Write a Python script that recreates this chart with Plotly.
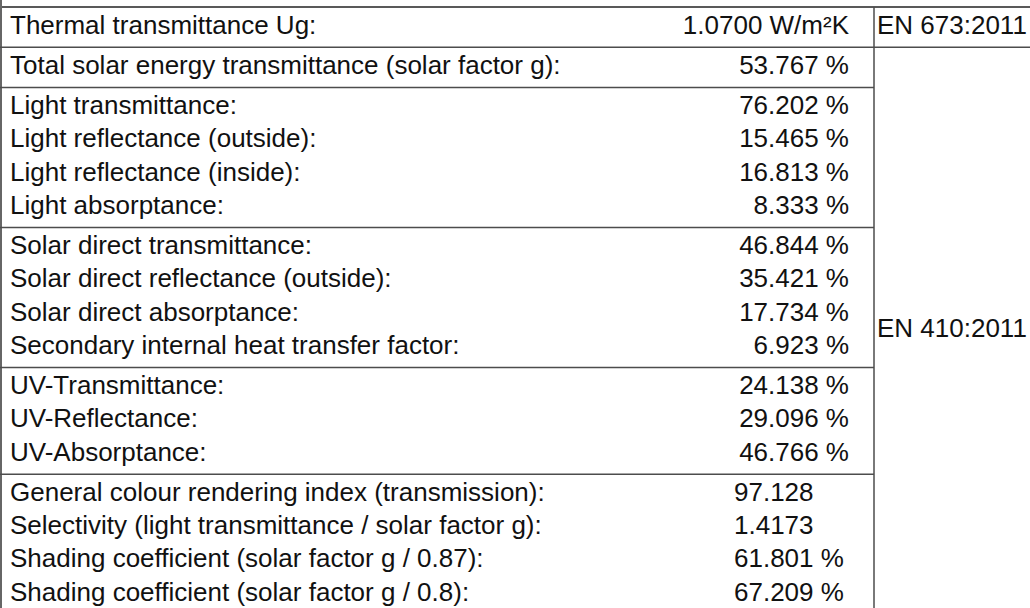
import plotly.graph_objects as go

# ---- data ----
labels = [
    "Thermal transmittance Ug:",
    "Total solar energy transmittance (solar factor g):",
    "Light transmittance:",
    "Light reflectance (outside):",
    "Light reflectance (inside):",
    "Light absorptance:",
    "Solar direct transmittance:",
    "Solar direct reflectance (outside):",
    "Solar direct absorptance:",
    "Secondary internal heat transfer factor:",
    "UV-Transmittance:",
    "UV-Reflectance:",
    "UV-Absorptance:",
    "General colour rendering index (transmission):",
    "Selectivity (light transmittance / solar factor g):",
    "Shading coefficient (solar factor g / 0.87):",
    "Shading coefficient (solar factor g / 0.8):",
]
values = [
    "1.0700 W/m²K", "53.767 %",
    "76.202 %", "15.465 %", "16.813 %", "8.333 %",
    "46.844 %", "35.421 %", "17.734 %", "6.923 %",
    "24.138 %", "29.096 %", "46.766 %",
    "97.128", "1.4173", "61.801 %", "67.209 %",
]
group_sizes = [1, 1, 4, 4, 3, 4]
standards = ["EN 673:2011", "EN 410:2011"]

# ---- layout geometry ----
W, H = 1030, 608
top = 7
pitch = 33.25
pad = 7
x_left = 10
x_val_right = 849
x_val_left = 734
x_div = 874
x_std = 877

row_y = []
group_bounds = []
y = top
for g in group_sizes:
    y0 = y
    for k in range(g):
        row_y.append(y0 + pad / 2 + pitch * (k + 0.5))
    y = y0 + g * pitch + pad
    group_bounds.append((y0, y))

n_last = group_sizes[-1]
right_aligned = [i < len(values) - n_last for i in range(len(values))]

fig = go.Figure()
font = dict(family="Arial, Liberation Sans, sans-serif", size=26, color="#111111")

fig.add_trace(go.Scatter(x=[x_left] * len(labels), y=row_y, text=labels, mode="text",
                         textposition="middle right", textfont=font, hoverinfo="skip"))
ry = [row_y[i] for i in range(len(values)) if right_aligned[i]]
rv = [values[i] for i in range(len(values)) if right_aligned[i]]
ly = [row_y[i] for i in range(len(values)) if not right_aligned[i]]
lv = [values[i] for i in range(len(values)) if not right_aligned[i]]
fig.add_trace(go.Scatter(x=[x_val_right] * len(rv), y=ry, text=rv, mode="text",
                         textposition="middle left", textfont=font, hoverinfo="skip"))
fig.add_trace(go.Scatter(x=[x_val_left] * len(lv), y=ly, text=lv, mode="text",
                         textposition="middle right", textfont=font, hoverinfo="skip"))

# standards
std1_y = row_y[0]
std2_y = (row_y[8] + row_y[9]) / 2
fig.add_trace(go.Scatter(x=[x_std, x_std], y=[std1_y, std2_y],
                         text=standards, mode="text", textposition="middle right",
                         textfont=font, hoverinfo="skip"))

line_col = "#4d4d4d"
shapes = []
shapes.append(dict(type="line", x0=0, x1=W, y0=top, y1=top, line=dict(color="#222222", width=1.5)))
shapes.append(dict(type="line", x0=1, x1=1, y0=0, y1=H, line=dict(color="#666666", width=2)))
shapes.append(dict(type="line", x0=x_div, x1=x_div, y0=top, y1=H + 10, line=dict(color=line_col, width=1.5)))
for gi, (y0, y1) in enumerate(group_bounds):
    x1 = W if gi == 0 else x_div
    shapes.append(dict(type="line", x0=0, x1=x1, y0=y1, y1=y1, line=dict(color=line_col, width=1.5)))

fig.update_layout(
    width=W, height=H, margin=dict(l=0, r=0, t=0, b=0),
    paper_bgcolor="white", plot_bgcolor="white", showlegend=False,
    shapes=shapes,
    xaxis=dict(range=[0, W], visible=False, fixedrange=True),
    yaxis=dict(range=[H, 0], visible=False, fixedrange=True),
)
fig.write_html("out.html", config={"displayModeBar": False},
               post_script="document.body.style.margin='0px';")
